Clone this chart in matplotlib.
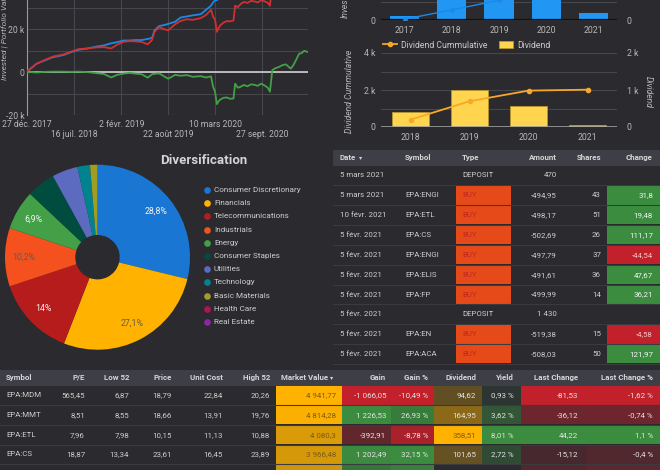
import numpy as np
import matplotlib
matplotlib.use('Agg')
import matplotlib.pyplot as plt
from matplotlib.patches import Rectangle, Patch
from matplotlib.lines import Line2D
from matplotlib.colors import to_rgb

plt.rcParams['font.family'] = ['Roboto', 'DejaVu Sans']

# ---- données : courbe investi / valeur / gain (en k€) ----
tl_dates = ['2017-12-27', '2018-01-14', '2018-02-04', '2018-03-11', '2018-04-15', '2018-05-30',
            '2018-07-05', '2018-08-04', '2018-09-08', '2018-10-20', '2018-11-20', '2018-12-21',
            '2019-01-15', '2019-02-12', '2019-03-10', '2019-04-03', '2019-04-30', '2019-05-26',
            '2019-06-14', '2019-06-24', '2019-07-14', '2019-08-06', '2019-08-22', '2019-09-20',
            '2019-10-14', '2019-11-10', '2019-12-05', '2020-01-08', '2020-01-30', '2020-02-21',
            '2020-03-01', '2020-03-09', '2020-03-17', '2020-03-24', '2020-03-31', '2020-04-14',
            '2020-04-28', '2020-05-12', '2020-05-27', '2020-06-03', '2020-06-15', '2020-06-27',
            '2020-07-10', '2020-07-26', '2020-08-10', '2020-08-24', '2020-09-08', '2020-09-22',
            '2020-10-08', '2020-10-21', '2020-10-30', '2020-11-09', '2020-11-24', '2020-12-08',
            '2020-12-22', '2021-01-06', '2021-01-27', '2021-02-08', '2021-02-18', '2021-03-04',
            '2021-03-15', '2021-03-25', '2021-04-08']
invested_k = [0.5, 2.0, 4.0, 5.5, 7.0, 8.0,
              9.5, 10.5, 11.0, 12.0, 12.5, 13.5,
              14.0, 14.8, 14.8, 15.0, 15.0, 15.5,
              16.0, 19.5, 21.5, 22.0, 22.5, 23.5,
              25.5, 26.0, 26.5, 27.0, 29.0, 31.0,
              32.5, 33.5, 33.6, 34.0, 34.5, 35.0,
              35.5, 36.0, 36.3, 36.3, 37.5, 38.5,
              38.6, 38.8, 38.8, 38.8, 38.8, 38.8,
              39.2, 39.5, 40.0, 41.0, 41.5, 42.0,
              42.5, 43.0, 44.0, 45.0, 45.5, 46.0,
              46.5, 47.0, 47.5]
gain_k = [0.0, 0.1, -0.1, 0.2, 0.3, 0.3,
          0.2, 0.3, 0.1, -0.4, -0.8, -2.4,
          -1.2, -0.6, -0.3, -0.6, -0.9, -2.5,
          -0.9, -0.7, -0.5, -2.0, -3.0, -1.2,
          -1.6, -1.3, -2.1, -1.8, -2.4, -1.9,
          -6.8, -9.0, -14.8, -13.5, -12.7, -11.9,
          -11.7, -12.3, -12.2, -5.3, -7.2, -6.7,
          -5.9, -6.5, -5.6, -5.8, -6.3, -5.3,
          -6.2, -7.2, -9.0, 1.0, 2.0, 2.5,
          3.3, 3.7, 1.7, 3.5, 5.6, 8.7,
          8.9, 10.0, 9.5]
tick_dates = ['2017-12-27', '2018-07-16', '2019-02-02', '2019-08-22', '2020-03-10', '2020-09-27']
tick_labels = ['27 déc. 2017', '16 juil. 2018', '2 févr. 2019', '22 août 2019', '10 mars 2020', '27 sept. 2020']

# ---- investi par année ----
inv_years = ['2017', '2018', '2019', '2020', '2021']
invested_yearly = [1100, 12600, 13000, 11500, 1900]

# ---- dividendes ----
div_years = ['2018', '2019', '2020', '2021']
dividends = [397, 995, 575, 50]

# ---- diversification ----
sectors = ['Consumer Discretionary', 'Financials', 'Telecommunications', 'Industrials', 'Energy',
           'Consumer Staples', 'Utilities', 'Technology', 'Basic Materials', 'Health Care', 'Real Estate']
sector_pct = [28.8, 27.1, 14.0, 10.2, 6.9, 5.0, 4.5, 2.2, 1.3, 0.0, 0.0]
sector_colors = ['#1976d2', '#ffb300', '#b71c1c', '#f4511e', '#43a047', '#004d40',
                 '#5c6bc0', '#00838f', '#9e9d24', '#ad1457', '#8e24aa']

# ---- transactions ----
tr_dates = ['5 mars 2021', '5 mars 2021', '10 févr. 2021', '5 févr. 2021', '5 févr. 2021',
            '5 févr. 2021', '5 févr. 2021', '5 févr. 2021', '5 févr. 2021', '5 févr. 2021']
tr_symbols = ['', 'EPA:ENGI', 'EPA:ETL', 'EPA:CS', 'EPA:ENGI', 'EPA:ELIS', 'EPA:FP', '', 'EPA:EN', 'EPA:ACA']
tr_types = ['DEPOSIT', 'BUY', 'BUY', 'BUY', 'BUY', 'BUY', 'BUY', 'DEPOSIT', 'BUY', 'BUY']
tr_amounts = [470, -494.95, -498.17, -502.69, -497.79, -491.61, -499.99, 1430, -519.38, -508.03]
tr_shares = [np.nan, 43, 51, 26, 37, 36, 14, np.nan, 15, 50]
tr_changes = [np.nan, 31.8, 19.48, 111.17, -44.54, 47.67, 36.21, np.nan, -4.58, 121.97]

# ---- portefeuille (5e ligne : seulement le haut des cellules est visible) ----
pf_symbols = ['EPA:MDM', 'EPA:MMT', 'EPA:ETL', 'EPA:CS', '']
pf_pe = [565.45, 8.51, 7.96, 18.87, np.nan]
pf_low52 = [6.87, 8.55, 7.98, 13.34, np.nan]
pf_price = [18.79, 18.66, 10.15, 23.61, np.nan]
pf_unit_cost = [22.84, 13.91, 11.13, 16.45, np.nan]
pf_high52 = [20.26, 19.76, 10.88, 23.89, np.nan]
pf_market_value = [4941.77, 4814.28, 4080.3, 3966.48, 3850]
pf_gain = [-1066.05, 1226.53, -392.91, 1202.49, 950]
pf_gain_pct = [-10.49, 26.93, -8.78, 32.15, 28]
pf_dividend = [94.62, 164.95, 358.51, 101.65, 0]
pf_yield = [0.93, 3.62, 8.01, 2.72, 0]
pf_last_change = [-81.53, -36.12, 44.22, -15.12, -22]
pf_last_change_pct = [-1.62, -0.74, 1.1, -0.4, -0.55]

BG = '#2a2a2f'
HEAD = '#3d3e46'
SEP = '#3a3a41'
GRID = '#46464d'
TXT = '#cdcdcd'
TICK = '#b8b8b8'
AMBER = '#ffb300'
GREEN = '#3b8c3f'
RED = '#c2202a'
W, H = 660, 470


def px(x0, y0, x1, y1):
    return [x0 / W, 1 - y1 / H, (x1 - x0) / W, (y1 - y0) / H]


def fr(v):
    s = f"{abs(v):,.2f}".rstrip('0').rstrip('.')
    s = s.replace(',', ' ').replace('.', ',')
    return ('-' if v < 0 else '') + s


def mix(color, f):
    c = np.array(to_rgb(color))
    b = np.array(to_rgb(BG))
    return tuple(b + (c - b) * f)


def heat(v, col, pos, neg):
    vals = np.array(col, dtype=float)
    if v > 0:
        f = v / vals[vals > 0].max()
        return mix(pos, f), f
    if v < 0:
        f = v / vals[vals < 0].min()
        return mix(neg, f), f
    return None, 0


fig = plt.figure(figsize=(6.6, 4.7), dpi=100, facecolor=BG)

# fond pour les tableaux et la légende (coordonnées en pixels)
tx = fig.add_axes([0, 0, 1, 1])
tx.set_xlim(0, W)
tx.set_ylim(H, 0)
tx.axis('off')

# ================= courbe investi / valeur =================
ax1 = fig.add_axes(px(27.3, -13.7, 308.3, 115.3))
ax1.set_facecolor('none')
d = np.array(tl_dates, dtype='datetime64[D]')
inv = np.array(invested_k) * 1000
gain = np.array(gain_k) * 1000
ax1.plot(d, inv, color='#1e88e5', lw=1.3, zorder=3)
ax1.plot(d, inv + gain, color='#d32f2f', lw=1.3, zorder=4)
ax1.plot(d, gain, color='#43a047', lw=1.3, zorder=4)
ax1.axhline(0, color='#d0d0d0', lw=1.2, zorder=2)
ax1.set_xlim(np.datetime64('2017-12-27'), np.datetime64('2021-04-12'))
ax1.set_ylim(-20000, 40000)
ax1.set_yticks(range(-20000, 40001, 10000))
ax1.set_yticklabels(['-20 k', '', '0', '', '20 k', '', ''])
td = np.array(tick_dates, dtype='datetime64[D]')
ax1.set_xticks(td)
ax1.set_xticklabels([])
for i, (t, lab) in enumerate(zip(td, tick_labels)):
    ax1.text(t, -0.068 if i % 2 == 0 else -0.146, lab, transform=ax1.get_xaxis_transform(),
             ha='center', va='center', fontsize=6.2, color=TICK, clip_on=False)
ax1.grid(True, color=GRID, lw=0.8, zorder=0)
ax1.tick_params(length=0, labelsize=6.2, colors=TICK, pad=2)
for s in ['top', 'right', 'bottom']:
    ax1.spines[s].set_visible(False)
ax1.spines['left'].set_color('#9a9a9a')
fig.text(5 / W, 1 - 80 / H, 'Invested | Portfolio Value', rotation=90, ha='center', va='bottom',
         fontsize=6.0, style='italic', color=TICK)

# ================= investi par année =================
ax2 = fig.add_axes(px(381, -60, 617, 20))
ax2.set_facecolor('none')
x = np.arange(len(inv_years))
ax2.bar(x, invested_yearly, width=0.62, color='#2196f3', zorder=2)
ax2.axhline(0, color='#111111', lw=1.6, zorder=3)
ax2.set_xlim(-0.5, len(inv_years) - 0.5)
ax2.set_ylim(0, 22600)
ax2.set_yticks(range(0, 22601, 5000))
ax2.set_yticklabels(['0', '', '', '', ''])
ax2.set_xticks(x)
ax2.set_xticklabels(inv_years)
ax2.grid(True, axis='y', color=GRID, lw=0.8, zorder=0)
ax2.tick_params(length=0, labelsize=6.3, colors=TICK, pad=4)
ax2r = ax2.twinx()
ax2r.plot(x, np.cumsum(invested_yearly), color='#1e88e5', marker='o', ms=2.5, lw=1, zorder=4)
ax2r.set_ylim(0, 22600 * 4.8)
ax2r.set_yticks([0])
ax2r.set_yticklabels(['0'])
ax2r.tick_params(length=0, labelsize=6.3, colors=TICK, pad=7)
for a in (ax2, ax2r):
    for s in a.spines.values():
        s.set_visible(False)
fig.text(345 / W, 1 - 18 / H, 'Invested', rotation=90, ha='center', va='bottom',
         fontsize=6.2, style='italic', color=TICK)

# ================= dividendes =================
ax3 = fig.add_axes(px(381, 53, 617, 127))
ax3r = ax3.twinx()
ax3.set_zorder(ax3r.get_zorder() + 1)
ax3.patch.set_visible(False)
ax3r.set_facecolor('none')
x = np.arange(len(div_years))
ax3r.bar(x, dividends, width=0.62, color='#ffd54f', edgecolor='#b8952c', lw=0.6, zorder=2)
ax3r.axhline(0, color='#9e9e9e', lw=1.2, zorder=3)
ax3r.set_ylim(0, 2000)
ax3r.set_yticks(range(0, 2001, 500))
ax3r.set_yticklabels(['0', '', '1 k', '', '2 k'])
ax3r.grid(True, axis='y', color=GRID, lw=0.8, zorder=0)
ax3.plot(x, np.cumsum(dividends), color='#f9a825', marker='o', ms=3, lw=1.3)
ax3.set_ylim(0, 4000)
ax3.set_yticks(range(0, 4001, 1000))
ax3.set_yticklabels(['0', '', '2 k', '', '4 k'])
ax3.set_xlim(-0.5, len(div_years) - 0.5)
ax3.set_xticks(x)
ax3.set_xticklabels(div_years)
ax3.tick_params(length=0, labelsize=6.3, colors=TICK, pad=4)
ax3r.tick_params(length=0, labelsize=6.3, colors=TICK, pad=7)
for a in (ax3, ax3r):
    for s in a.spines.values():
        s.set_visible(False)
fig.text(350 / W, 1 - 91 / H, 'Dividend Cummulative', rotation=90, ha='center', va='center',
         fontsize=6.2, style='italic', color=TICK)
fig.text(648 / W, 1 - 92 / H, 'Dividend', rotation=270, ha='center', va='center',
         fontsize=6.2, style='italic', color=TICK)
fig.legend([Line2D([0], [0], color='#f9a825', marker='o', ms=3, lw=1.3),
            Patch(facecolor='#ffd54f', edgecolor='#b8952c', lw=0.6)],
           ['Dividend Cummulative', 'Dividend'], loc='center left',
           bbox_to_anchor=(377 / W, 1 - 45 / H), ncol=2, frameon=False, fontsize=6.2,
           labelcolor=TXT, handlelength=1.6, handletextpad=0.5, columnspacing=1.3,
           borderpad=0.2)

# ================= diversification =================
axp = fig.add_axes(px(5, 164.7, 190, 349.7))
wedges, _, autotexts = axp.pie(sector_pct, colors=sector_colors, startangle=90, counterclock=False,
                               radius=1, wedgeprops=dict(width=0.76, linewidth=0),
                               autopct=lambda p: fr(round(p, 1)) + '%' if p >= 5 else '',
                               pctdistance=0.8, textprops=dict(fontsize=6.3))
for t, c in zip(autotexts, sector_colors):
    t.set_color('#6a5a4a' if c in ('#ffb300', '#f4511e') else '#f2f2f2')
axp.set_xlim(-1, 1)
axp.set_ylim(-1, 1)
axp.set_aspect('equal')
tx.text(204, 161, 'Diversification', ha='center', va='center', fontsize=9.5,
        fontweight='bold', color='#d4d4d4')
for i, (name, c) in enumerate(zip(sectors, sector_colors)):
    y = 190 + i * 13.2
    tx.plot(207, y, 'o', color=c, ms=4.8, mec='none')
    tx.text(214, y, name, ha='left', va='center', fontsize=5.9, color=TXT)

# ================= tableau transactions =================
FS = 5.7
tx.add_patch(Rectangle((333, 149.5), 327, 16, color=HEAD, lw=0))
for name, xx, ha in [('Date', 340, 'left'), ('Symbol', 405, 'left'), ('Type', 462, 'left'),
                     ('Amount', 557, 'right'), ('Shares', 601, 'right'), ('Change', 653, 'right')]:
    tx.text(xx, 157.5, name, ha=ha, va='center', fontsize=FS, color='#d6d6d6', fontweight='bold')
tx.text(361, 157.5, '▾', ha='center', va='center', fontsize=4.5, color='#d6d6d6')
RH = 19.85
for i in range(len(tr_dates)):
    y0 = 165.5 + i * RH
    yc = y0 + RH / 2
    if tr_types[i] == 'BUY':
        tx.add_patch(Rectangle((456, y0 + 0.6), 55, RH - 1.2, color='#e64a19', lw=0))
        tcol = '#c0281e'
    else:
        tcol = TXT
    if not np.isnan(tr_changes[i]):
        pos = tr_changes[i] >= 0
        tx.add_patch(Rectangle((607, y0 + 0.6), 53, RH - 1.2, color=GREEN if pos else RED, lw=0))
        tx.text(653, yc, fr(tr_changes[i]), ha='right', va='center', fontsize=FS,
                color='#f4f4f4' if pos else '#f5c4c4')
    tx.text(340, yc, tr_dates[i], ha='left', va='center', fontsize=FS, color=TXT)
    tx.text(405, yc, tr_symbols[i], ha='left', va='center', fontsize=FS, color=TXT)
    tx.text(462, yc, tr_types[i], ha='left', va='center', fontsize=FS, color=tcol)
    tx.text(557, yc, fr(tr_amounts[i]), ha='right', va='center', fontsize=FS, color=TXT)
    if not np.isnan(tr_shares[i]):
        tx.text(601, yc, str(int(tr_shares[i])), ha='right', va='center', fontsize=FS, color=TXT)
    tx.plot([333, 660], [y0 + RH, y0 + RH], color=SEP, lw=0.8)

# ================= tableau portefeuille =================
tx.add_patch(Rectangle((0, 369.5), 660, 16, color=HEAD, lw=0))
heads = [('Symbol', 6, 'left'), ('P/E', 85, 'right'), ('Low 52', 129, 'right'),
         ('Price', 172, 'right'), ('Unit Cost', 223, 'right'), ('High 52', 270, 'right'),
         ('Market Value', 281, 'left'), ('Gain', 386, 'right'), ('Gain %', 428, 'right'),
         ('Dividend', 476, 'right'), ('Yield', 514, 'right'), ('Last Change', 578, 'right'),
         ('Last Change %', 653, 'right')]
for name, xx, ha in heads:
    tx.text(xx, 377.5, name, ha=ha, va='center', fontsize=FS, color='#d6d6d6', fontweight='bold')
tx.text(332, 377.5, '▾', ha='center', va='center', fontsize=4.5, color='#d6d6d6')

plain_cols = [(pf_pe, 85), (pf_low52, 129), (pf_price, 172), (pf_unit_cost, 223), (pf_high52, 270)]
heat_cols = [(pf_market_value, 276, 342, 336, AMBER, RED, ''),
             (pf_gain, 342, 391, 386, GREEN, RED, ''),
             (pf_gain_pct, 391, 434, 428, GREEN, RED, ' %'),
             (pf_dividend, 434, 482, 476, AMBER, RED, ''),
             (pf_yield, 482, 521, 514, GREEN, RED, ' %'),
             (pf_last_change, 521, 586, 578, GREEN, RED, ''),
             (pf_last_change_pct, 586, 660, 653, GREEN, RED, ' %')]
RH2 = 19.7
for i in range(len(pf_symbols)):
    y0 = 385.5 + i * RH2
    yc = y0 + RH2 / 2
    show_text = pf_symbols[i] != ''
    if show_text:
        tx.text(6, yc, pf_symbols[i], ha='left', va='center', fontsize=FS, color=TXT)
        for col, xx in plain_cols:
            tx.text(xx, yc, fr(col[i]), ha='right', va='center', fontsize=FS, color=TXT)
    for col, xa, xb, xt, pos, neg, suf in heat_cols:
        c, f = heat(col[i], col, pos, neg)
        if c is not None:
            tx.add_patch(Rectangle((xa, y0 + 0.5), xb - xa, RH2 - 1, color=c, lw=0))
        if show_text:
            tcol = '#7a5a14' if (pos == AMBER and f > 0.6) else '#e4e4e4'
            tx.text(xt, yc, fr(col[i]) + suf, ha='right', va='center', fontsize=FS, color=tcol)
    tx.plot([0, 660], [y0 + RH2, y0 + RH2], color=SEP, lw=0.8)

fig.savefig('out.png', dpi=100, facecolor=BG)
